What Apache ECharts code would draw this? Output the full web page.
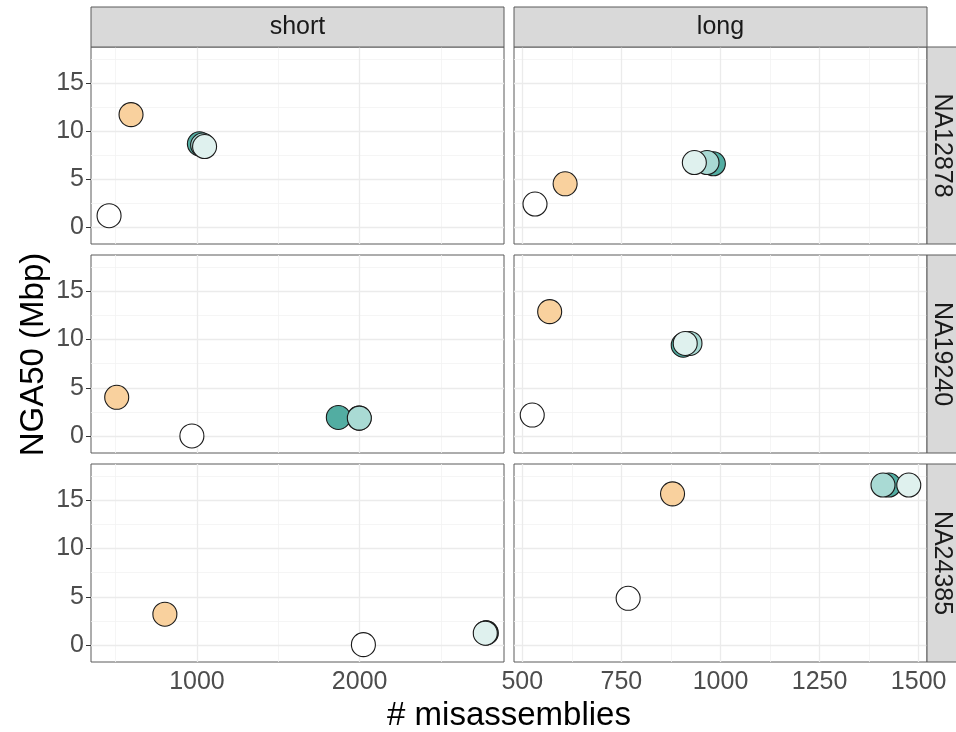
<!DOCTYPE html>
<html><head><meta charset="utf-8">
<script src="https://cdn.jsdelivr.net/npm/echarts@6/dist/echarts.min.js"></script>
<style>html,body{margin:0;padding:0;background:#fff}#c{width:956px;height:732px}</style>
</head><body><div id="c"></div>
<script>
// Facets
const samples = ['NA12878', 'NA19240', 'NA24385'];   // rows
const readTypes = ['short', 'long'];                 // columns
// Panel order: NA12878-short, NA12878-long, NA19240-short, NA19240-long, NA24385-short, NA24385-long
const groupNames = ['g1', 'g2', 'g3', 'g4', 'g5'];
const groupColors = ['#FFFFFF', '#F9D19E', '#52ADA2', '#A9DAD4', '#DFF1EE'];

const g1X = [460, 532, 969, 525, 2023, 767];
const g1Y = [1.18, 2.4, 0.0, 2.17, 0.03, 4.84];
const g2X = [595, 608, 507, 569, 803, 879];
const g2Y = [11.73, 4.51, 4.01, 12.9, 3.19, 15.68];
const g3X = [1015, 982, 1869, 906, 2778, 1425];
const g3Y = [8.68, 6.6, 1.92, 9.42, 1.25, 16.6];
const g4X = [1035, 966, 1998, 923, 2776, 1410];
const g4Y = [8.55, 6.73, 1.85, 9.6, 1.25, 16.6];
const g5X = [1047, 934, 1996, 911, 2772, 1475];
const g5Y = [8.4, 6.73, 1.85, 9.6, 1.22, 16.6];

// drawing order of groups per panel (last is on top)
const panelOrder = [
  [0, 1, 2, 3, 4], [0, 1, 2, 3, 4], [0, 1, 4, 2, 3],
  [0, 1, 2, 3, 4], [0, 1, 2, 3, 4], [0, 1, 2, 3, 4]
];

// Axis ranges and ticks
const xRangeShort = [349, 2887];
const xRangeLong = [479, 1521];
const yRange = [-1.77, 18.78];
const xTicksShort = [1000, 2000];
const xMinorShort = [500, 1500, 2500];
const xTicksLong = [500, 750, 1000, 1250, 1500];
const xMinorLong = [625, 875, 1125, 1375];
const yTicks = [0, 5, 10, 15];
const yMinor = [2.5, 7.5, 12.5, 17.5];

const groupX = [g1X, g2X, g3X, g4X, g5X];
const groupY = [g1Y, g2Y, g3Y, g4Y, g5Y];

const FONT = 'Liberation Sans, Arial, Helvetica, sans-serif';
const colLeft = [91, 514];
const colWidth = 413;
const rowTop = [47, 255, 464];
const rowHeight = [197, 198, 198];

const grids = [], xAxes = [], yAxes = [], series = [], graphics = [];
for (let r = 0; r < 3; r++) {
  for (let c = 0; c < 2; c++) {
    const i = r * 2 + c;
    grids.push({left: colLeft[c], top: rowTop[r], width: colWidth, height: rowHeight[r],
      show: true, borderColor: '#5a5a5a', borderWidth: 1, backgroundColor: '#fff', containLabel: false});
    const xr = c === 0 ? xRangeShort : xRangeLong;
    const xt = c === 0 ? xTicksShort : xTicksLong;
    const xm = c === 0 ? xMinorShort : xMinorLong;
    xAxes.push({gridIndex: i, type: 'value', min: xr[0], max: xr[1],
      splitLine: {show: false}, axisLine: {show: false},
      axisTick: {show: r === 2, customValues: xt, length: 5, lineStyle: {color: '#333', width: 1}},
      axisLabel: {show: r === 2, customValues: xt, fontSize: 25, color: '#4d4d4d', margin: 8,
        fontFamily: FONT, formatter: v => String(v)}
    });
    yAxes.push({gridIndex: i, type: 'value', min: yRange[0], max: yRange[1],
      splitLine: {show: false}, axisLine: {show: false},
      axisTick: {show: c === 0, customValues: yTicks, length: 5, lineStyle: {color: '#333', width: 1}},
      axisLabel: {show: c === 0, customValues: yTicks, fontSize: 25, color: '#4d4d4d', margin: 7,
        fontFamily: FONT, formatter: v => String(v)}
    });
    const lines = [];
    xm.forEach(v => lines.push({xAxis: v, lineStyle: {color: '#F2F2F2', width: 0.8, type: 'solid'}}));
    yMinor.forEach(v => lines.push({yAxis: v, lineStyle: {color: '#F2F2F2', width: 0.8, type: 'solid'}}));
    xt.forEach(v => lines.push({xAxis: v, lineStyle: {color: '#EBEBEB', width: 1.3, type: 'solid'}}));
    yTicks.forEach(v => lines.push({yAxis: v, lineStyle: {color: '#EBEBEB', width: 1.3, type: 'solid'}}));
    series.push({type: 'scatter', xAxisIndex: i, yAxisIndex: i, data: [], z: 1, silent: true,
      markLine: {z: 1, silent: true, symbol: ['none', 'none'], label: {show: false}, animation: false,
        emphasis: {disabled: true}, data: lines}});
    panelOrder[i].forEach((g, k) => {
      series.push({type: 'scatter', name: groupNames[g], xAxisIndex: i, yAxisIndex: i, z: 3 + k,
        symbolSize: 24, animation: false,
        itemStyle: {color: groupColors[g], borderColor: '#1a1a1a', borderWidth: 1.1, opacity: 1},
        emphasis: {disabled: true},
        data: [[groupX[g][i], groupY[g][i]]]});
    });
  }
}

// strips
readTypes.forEach((t, c) => {
  graphics.push({type: 'rect', shape: {x: colLeft[c], y: 7, width: colWidth, height: 40},
    style: {fill: '#D9D9D9', stroke: '#5a5a5a', lineWidth: 1}, z: 10});
  graphics.push({type: 'text', x: colLeft[c] + colWidth / 2, y: 27,
    style: {text: t, fill: '#1a1a1a', font: '25px ' + FONT, textAlign: 'center', textVerticalAlign: 'middle'}, z: 11});
});
samples.forEach((s, r) => {
  graphics.push({type: 'rect', shape: {x: 927, y: rowTop[r], width: 40, height: rowHeight[r]},
    style: {fill: '#D9D9D9', stroke: '#5a5a5a', lineWidth: 1}, z: 10});
  graphics.push({type: 'text', x: 942, y: rowTop[r] + rowHeight[r] / 2, rotation: -Math.PI / 2,
    style: {text: s, fill: '#1a1a1a', font: '25px ' + FONT, textAlign: 'center', textVerticalAlign: 'middle'}, z: 11});
});
graphics.push({type: 'text', x: 509, y: 716,
  style: {text: '# misassemblies', fill: '#000', font: '33px ' + FONT, textAlign: 'center', textVerticalAlign: 'middle'}});
graphics.push({type: 'text', x: 34, y: 354.5, rotation: Math.PI / 2,
  style: {text: 'NGA50 (Mbp)', fill: '#000', font: '33px ' + FONT, textAlign: 'center', textVerticalAlign: 'middle'}});

const chart = echarts.init(document.getElementById('c'), null, {renderer: 'canvas'});
chart.setOption({
  animation: false,
  backgroundColor: '#fff',
  grid: grids, xAxis: xAxes, yAxis: yAxes, series: series, graphic: graphics
});
</script></body></html>
